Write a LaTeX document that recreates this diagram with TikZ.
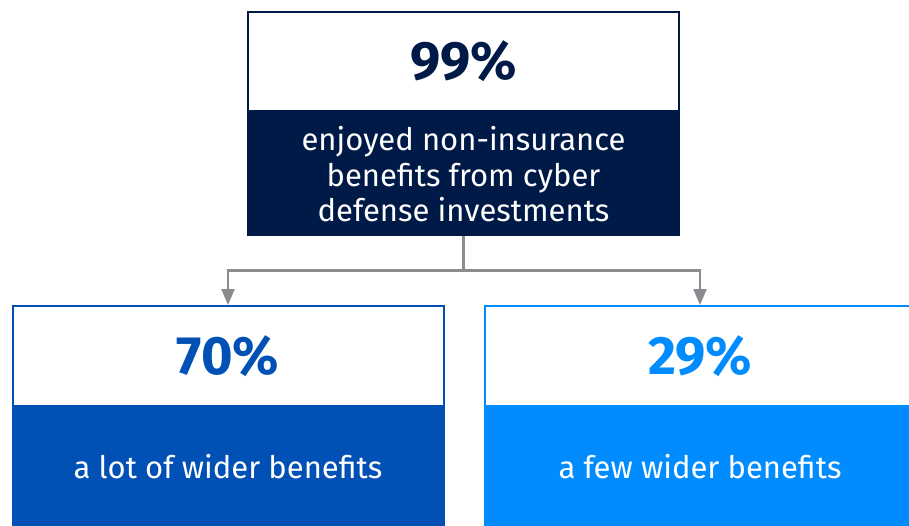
\documentclass[tikz,border=0pt]{standalone}
\usepackage{fontspec}
\setmainfont{Fira Sans}
\usetikzlibrary{positioning,arrows.meta}
\definecolor{navy}{HTML}{001A47}
\definecolor{midblue}{HTML}{0050B5}
\definecolor{skyblue}{HTML}{008CFF}
\definecolor{linkgray}{HTML}{8A8C90}
\begin{document}
\begin{tikzpicture}[
    x=1pt, y=-1pt,
    head/.style={draw=#1, line width=2pt, fill=white, text=#1,
      minimum width=431pt, minimum height=99pt, inner sep=0pt,
      font=\fontsize{54}{54}\selectfont\bfseries},
    body/.style={fill=#1, text=white, minimum width=433pt, inner sep=0pt,
      align=center, font=\fontsize{31}{35.5}\selectfont},
    label/.style={text=white, font=\fontsize{31}{35}\selectfont},
    linkline/.style={draw=linkgray, line width=2.5pt},
    link/.style={linkline, -{Triangle[width=13pt,length=16pt]}}
  ]
  % page
  \useasboundingbox (0,0) rectangle (909,525);
  \clip (0,0) rectangle (909,525);

  % top box
  \node [head=navy] (all) at (463.5,61.5) {99\%};
  \node [body=navy, minimum height=124pt, below=0pt of all] (allText)
    {enjoyed non-insurance\\benefits from cyber\\defense investments};

  % left box
  \node [head=midblue, minimum height=100pt] (lot) at (228,356) {70\%};
  \node [body=midblue, minimum height=150pt, anchor=north] (lotText) at (lot.south) {};
  \node [label] (lotLabel) at (228,467) {a lot of wider benefits};

  % right box
  \node [head=skyblue, minimum height=100pt] (few) at (700,356) {29\%};
  \node [body=skyblue, minimum height=150pt, anchor=north] (fewText) at (few.south) {};
  \node [label] (fewLabel) at (700,467) {a few wider benefits};

  % connectors
  \coordinate [below=34pt of allText] (split);
  \draw [linkline] (allText.south) -- (split);
  \draw [link] (split) -| (lot.north);
  \draw [link] (split) -| (few.north);
\end{tikzpicture}
\end{document}
